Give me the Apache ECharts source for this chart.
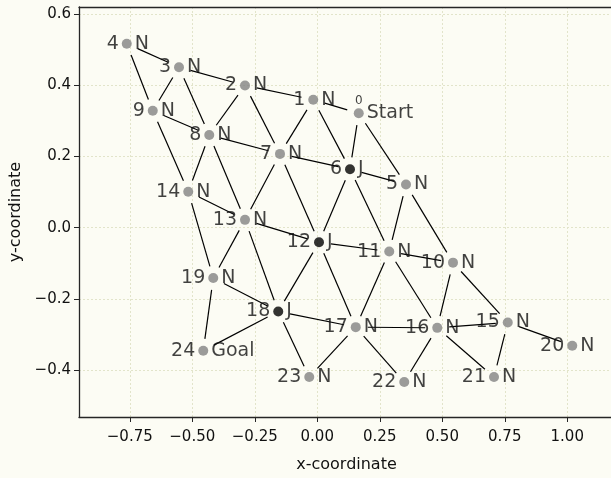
<!DOCTYPE html>
<html>
<head>
<meta charset="utf-8">
<script src="https://cdn.jsdelivr.net/npm/echarts@6/dist/echarts.min.js"></script>
<style>
  html, body { margin: 0; padding: 0; background: #fcfcf4; }
  #chart { width: 611px; height: 478px; }
</style>
</head>
<body>
<div id="chart"></div>
<script>
// Node coordinates of the lattice graph (index = node id)
const nodeX = [0.166, -0.016, -0.289, -0.553, -0.762, 0.355, 0.131, -0.149, -0.432, -0.658,
               0.543, 0.288, 0.007, -0.289, -0.516, 0.762, 0.480, 0.154, -0.156, -0.416,
               1.020, 0.707, 0.348, -0.032, -0.456];
const nodeY = [0.321, 0.359, 0.399, 0.450, 0.516, 0.121, 0.164, 0.207, 0.260, 0.328,
               -0.098, -0.067, -0.041, 0.022, 0.101, -0.266, -0.281, -0.279, -0.235, -0.141,
               -0.331, -0.419, -0.433, -0.419, -0.345];
// Node kind: N = normal, J = junction, plus start and goal
const nodeKind = ['Start', 'N', 'N', 'N', 'N', 'N', 'J', 'N', 'N', 'N',
                  'N', 'N', 'J', 'N', 'N', 'N', 'N', 'N', 'J', 'N',
                  'N', 'N', 'N', 'N', 'Goal'];
// Undirected edges between node ids
const edges = [
  [4, 3], [4, 9], [3, 2], [3, 9], [3, 8], [2, 1], [2, 8], [2, 7], [1, 0], [1, 7], [1, 6],
  [0, 6], [0, 5], [9, 8], [9, 14], [8, 7], [8, 14], [8, 13], [7, 6], [7, 13], [7, 12],
  [6, 5], [6, 12], [6, 11], [5, 11], [5, 10], [14, 13], [14, 19], [13, 12], [13, 19], [13, 18],
  [12, 11], [12, 18], [12, 17], [11, 10], [11, 17], [11, 16], [10, 16], [10, 15],
  [19, 18], [19, 24], [18, 17], [18, 24], [18, 23], [17, 16], [17, 23], [17, 22],
  [16, 15], [16, 22], [16, 21], [15, 21], [15, 20]
];
// Axis tick values
const xTicks = [-0.75, -0.5, -0.25, 0, 0.25, 0.5, 0.75, 1.0];
const yTicks = [-0.4, -0.2, 0.0, 0.2, 0.4, 0.6];

const FONT = 'DejaVu Sans';
const BG = '#fcfcf4';
const GRID_COLOR = '#e2e4ca';
const AXIS_COLOR = '#262626';
const TEXT_COLOR = '#111111';

// the plot area runs past the right edge of the canvas
const X_MIN = -0.953, X_MAX = 1.287;

const edgeRows = edges.map(([a, b]) => [nodeX[a], nodeY[a], nodeX[b], nodeY[b]]);

const nodeData = nodeX.map((x, i) => ({
  value: [x, nodeY[i]],
  kind: nodeKind[i],
  itemStyle: { color: nodeKind[i] === 'J' ? '#000000' : '#828282' }
}));

const idData = nodeX.map((x, i) => {
  const item = { value: [x, nodeY[i]], id: String(i) };
  if (nodeKind[i] === 'Start') {
    item.label = { position: 'top', distance: 1, fontSize: 12 };
  }
  return item;
});

const chart = echarts.init(document.getElementById('chart'), null, { renderer: 'canvas' });

const signed = digits => v => (v < -1e-9 ? '\u2212' : '') + Math.abs(v).toFixed(digits);

const axisCommon = {
  type: 'value',
  nameLocation: 'middle',
  nameTextStyle: { fontFamily: FONT, fontSize: 16, color: TEXT_COLOR },
  axisLine: { show: true, onZero: false, lineStyle: { color: AXIS_COLOR, width: 1.3 } },
  splitLine: { show: true, lineStyle: { color: GRID_COLOR, type: [2, 2], width: 1 } }
};

chart.setOption({
  backgroundColor: BG,
  animation: false,
  grid: {
    left: 79, top: 7, width: 560, height: 410, show: false,
    containLabel: false, outerBoundsMode: 'none'
  },
  xAxis: [
    Object.assign({}, axisCommon, {
      min: X_MIN, max: X_MAX, position: 'bottom',
      name: 'x-coordinate', nameGap: 40,
      nameTextStyle: { fontFamily: FONT, fontSize: 16, color: TEXT_COLOR, padding: [0, 25, 0, 0] },
      axisTick: { show: true, length: 5, customValues: xTicks, lineStyle: { color: AXIS_COLOR } },
      axisLabel: { customValues: xTicks, formatter: signed(2), fontFamily: FONT, fontSize: 15, color: TEXT_COLOR, margin: 13 }
    }),
    {
      // top frame edge
      type: 'value', min: X_MIN, max: X_MAX, position: 'top',
      axisLine: { show: true, onZero: false, lineStyle: { color: AXIS_COLOR, width: 1.3 } },
      axisTick: { show: false }, axisLabel: { show: false }, splitLine: { show: false }
    }
  ],
  yAxis: Object.assign({}, axisCommon, {
    min: -0.531, max: 0.619,
    name: 'y-coordinate', nameGap: 54,
    axisTick: { show: true, length: 5, customValues: yTicks, lineStyle: { color: AXIS_COLOR } },
    axisLabel: { customValues: yTicks, formatter: signed(1), fontFamily: FONT, fontSize: 15, color: TEXT_COLOR, margin: 8 }
  }),
  series: [
    {
      // edges, trimmed near each endpoint
      type: 'custom',
      silent: true,
      z: 1,
      data: edgeRows,
      encode: { x: [0, 2], y: [1, 3] },
      renderItem: (params, api) => {
        const p1 = api.coord([api.value(0), api.value(1)]);
        const p2 = api.coord([api.value(2), api.value(3)]);
        const dx = p2[0] - p1[0], dy = p2[1] - p1[1];
        const len = Math.hypot(dx, dy);
        const s = 12;
        const ux = dx / len, uy = dy / len;
        return {
          type: 'line',
          shape: { x1: p1[0] + ux * s, y1: p1[1] + uy * s, x2: p2[0] - ux * s, y2: p2[1] - uy * s },
          style: { stroke: '#000000', lineWidth: 1.2 }
        };
      }
    },
    {
      // node ids, left of each node
      type: 'scatter',
      silent: true,
      z: 2,
      symbolSize: 10,
      itemStyle: { color: 'rgba(0,0,0,0)' },
      data: idData,
      label: {
        show: true, position: 'left', distance: 3,
        formatter: p => p.data.id,
        fontFamily: FONT, fontSize: 19, color: TEXT_COLOR
      }
    },
    {
      // nodes with their kind to the right
      type: 'scatter',
      silent: true,
      z: 3,
      symbolSize: 10,
      data: nodeData,
      label: {
        show: true, position: 'right', distance: 3,
        formatter: p => p.data.kind,
        fontFamily: FONT, fontSize: 19, color: TEXT_COLOR
      }
    }
  ]
});
</script>
</body>
</html>
